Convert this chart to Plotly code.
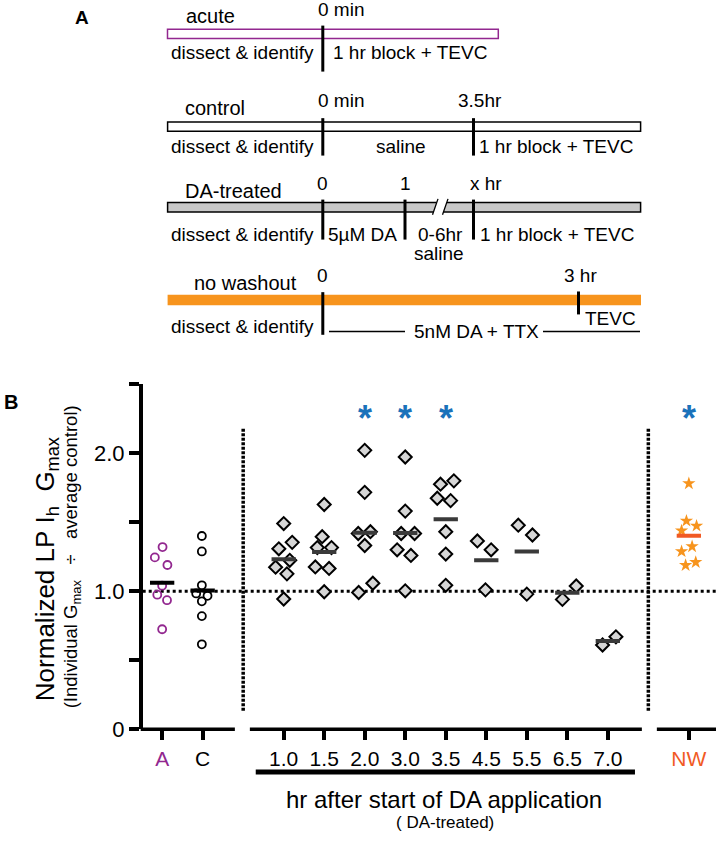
import numpy as np
import plotly.graph_objects as go

W, H = 716, 850
FONT = "Liberation Sans, Arial, Helvetica, sans-serif"

# ---------------- data (panel B) ----------------
categories = ["A", "C", "1.0", "1.5", "2.0", "3.0", "3.5", "4.5", "5.5", "6.5", "7.0", "NW"]
cat_pos = [0, 1, 3, 4, 5, 6, 7, 8, 9, 10, 11, 13]

acute = [1.32, 1.245, 1.19, 1.04, 0.975, 0.935, 0.725]
acute_dx = [0.01, -0.18, 0.13, 0, -0.12, 0.12, 0]
control = [1.40, 1.288, 1.043, 0.984, 0.967, 0.927, 0.82, 0.616]
control_dx = [-0.02, -0.02, -0.02, -0.16, 0.12, -0.02, -0.02, -0.02]

da_1_0 = [1.49, 1.354, 1.307, 1.224, 1.174, 1.126, 0.944]
da_1_0_dx = [0, 0.21, -0.12, 0.15, -0.2, 0.08, 0]
da_1_5 = [1.628, 1.395, 1.316, 1.316, 1.176, 1.165, 0.996]
da_1_5_dx = [0, -0.05, -0.17, 0.18, -0.22, 0.12, 0]
da_2_0 = [2.02, 1.716, 1.418, 1.431, 1.331, 1.058, 0.991]
da_2_0_dx = [0, 0, -0.16, 0.14, 0, 0.2, -0.15]
da_3_0 = [1.972, 1.58, 1.418, 1.418, 1.30, 1.259, 1.003]
da_3_0_dx = [0, 0, -0.1, 0.23, -0.2, 0.14, 0]
da_3_5 = [1.775, 1.799, 1.673, 1.656, 1.431, 1.269, 1.043]
da_3_5_dx = [-0.13, 0.2, -0.21, 0.12, 0, 0, 0]
da_4_5 = [1.364, 1.30, 1.01]
da_4_5_dx = [-0.22, 0.12, -0.02]
da_5_5 = [1.478, 1.407, 0.979]
da_5_5_dx = [-0.21, 0.14, 0]
da_6_5 = [1.038, 0.941]
da_6_5_dx = [0.22, -0.12]
da_7_0 = [0.67, 0.611]
da_7_0_dx = [0.2, -0.13]

no_washout = [1.78, 1.509, 1.473, 1.438, 1.324, 1.288, 1.21, 1.188]
no_washout_dx = [0, -0.06, 0.19, -0.18, 0.08, -0.18, 0.17, -0.08]

significant = ["2.0", "3.0", "3.5", "NW"]
sig_y = 2.335

y_tickvals = [0, 1.0, 2.0]
y_ticktext = ["0", "1.0", "2.0"]
y_minor_ticks = [0.5, 1.5, 2.5]

PURPLE = "#92278f"
ORANGE = "#f7941d"
ORANGE_RED = "#f15a24"
BLUE = "#1a72ba"

# ---------------- axes geometry ----------------
XR = [-0.48, 13.67]
YR = [0, 2.5]
X0_PX = 142.7          # left edge of plot area (pixels)
Y0_PX, Y1_PX = 740.7, 390.0   # pixel rows of y=0 and y=2.5


def px(x):
    return X0_PX + (x - XR[0]) / (XR[1] - XR[0]) * (W - X0_PX)


def py(y):
    return Y0_PX - (y - YR[0]) / (YR[1] - YR[0]) * (Y0_PX - Y1_PX)


pos = dict(zip(categories, cat_pos))

fig = go.Figure()


def add_points(cat, vals, dx, marker):
    xs = [pos[cat] + d for d in dx]
    fig.add_trace(go.Scatter(x=xs, y=vals, mode="markers", marker=marker,
                             hoverinfo="skip", cliponaxis=False))

add_points("A", acute, acute_dx,
           dict(symbol="circle-open", size=8, color=PURPLE, line=dict(width=1.8, color=PURPLE)))
add_points("C", control, control_dx,
           dict(symbol="circle-open", size=8, color="black", line=dict(width=1.8, color="black")))

da_sets = [("1.0", da_1_0, da_1_0_dx), ("1.5", da_1_5, da_1_5_dx), ("2.0", da_2_0, da_2_0_dx),
           ("3.0", da_3_0, da_3_0_dx), ("3.5", da_3_5, da_3_5_dx), ("4.5", da_4_5, da_4_5_dx),
           ("5.5", da_5_5, da_5_5_dx), ("6.5", da_6_5, da_6_5_dx), ("7.0", da_7_0, da_7_0_dx)]
for cat, vals, dx in da_sets:
    add_points(cat, vals, dx,
               dict(symbol="diamond", size=10, color="#d6d6d6", line=dict(width=2, color="black")))

add_points("NW", no_washout, no_washout_dx,
           dict(symbol="star", size=10, color=ORANGE, line=dict(width=0)))

# mean bars
HALF = 0.3


def add_mean(cats_vals, color):
    xs, ys = [], []
    for cat, vals in cats_vals:
        m = float(np.mean(vals))
        xs += [pos[cat] - HALF, pos[cat] + HALF, None]
        ys += [m, m, None]
    fig.add_trace(go.Scatter(x=xs, y=ys, mode="lines", line=dict(color=color, width=4),
                             hoverinfo="skip"))

add_mean([("A", acute), ("C", control)], "black")
add_mean([(c, v) for c, v, _ in da_sets], "#3a3a3a")
add_mean([("NW", no_washout)], ORANGE_RED)

# dummy trace for pixel overlay axes
fig.add_trace(go.Scatter(x=[None], y=[None], xaxis="x2", yaxis="y2", hoverinfo="skip"))

shapes = []
annotations = []

# dotted reference lines (data coords)
shapes.append(dict(type="line", xref="x", yref="y", x0=XR[0], x1=XR[1], y0=1, y1=1,
                   line=dict(color="black", width=3, dash="dot"), layer="below"))
for xv in (2, 12):
    shapes.append(dict(type="line", xref="x", yref="y", x0=xv, x1=xv, y0=0.135, y1=2.185,
                       line=dict(color="black", width=3.5, dash="3px,1.5px"), layer="below"))

# broken x-axis line (pixel overlay, derived from data scale)
for a, b in [(XR[0], 1.795), (2.165, 11.84), (12.21, XR[1])]:
    shapes.append(dict(type="line", xref="x2", yref="y2", x0=px(a) - (2 if a == XR[0] else 0),
                       x1=px(b), y0=py(0), y1=py(0), line=dict(color="black", width=3.5)))
# thick bar under DA-treated labels
shapes.append(dict(type="line", xref="x2", yref="y2", x0=px(2.31), x1=px(11.67), y0=784, y1=784,
                   line=dict(color="black", width=5)))

BOLD = 700
# significance asterisks
for cat in significant:
    annotations.append(dict(x=pos[cat], y=sig_y, xref="x", yref="y", text="*",
                            showarrow=False, yanchor="middle", yshift=-12,
                            font=dict(size=36, color=BLUE, family=FONT, weight=BOLD)))

NB = "\u00a0"
# y-axis titles
annotations.append(dict(x=46, y=578, xref="x2", yref="y2", textangle=-90, showarrow=False,
                        text="Normalized LP" + NB + "I<sub>h</sub>" + NB + NB + "G<sub>max</sub>",
                        font=dict(size=26, color="black", family=FONT)))
annotations.append(dict(x=72, y=566, xref="x2", yref="y2", textangle=-90, showarrow=False,
                        text="(Individual G<sub>max</sub>" + NB * 3 + "\u00f7" + NB * 3 + "average control)",
                        font=dict(size=18.5, color="black", family=FONT)))
# x-axis titles
annotations.append(dict(x=444, y=812, xref="x2", yref="y2", showarrow=False,
                        text="hr after start of DA application",
                        font=dict(size=24, color="black", family=FONT)))
annotations.append(dict(x=445, y=835, xref="x2", yref="y2", showarrow=False,
                        text="( DA-treated)", font=dict(size=17, color="black", family=FONT)))

# panel labels
annotations.append(dict(x=82, y=18, xref="x2", yref="y2", showarrow=False, text="A",
                        font=dict(size=19, color="black", family=FONT, weight=BOLD)))
annotations.append(dict(x=11, y=408, xref="x2", yref="y2", showarrow=False, text="B",
                        font=dict(size=20, color="black", family=FONT, weight=BOLD)))


# ---------------- panel A schematic (pixel overlay) ----------------
def txt(x, y, s, size=19, anchor="center"):
    annotations.append(dict(x=x, y=y, xref="x2", yref="y2", text=s, showarrow=False,
                            xanchor=anchor, yanchor="middle",
                            font=dict(size=size, color="black", family=FONT)))


def seg(x0, y0, x1, y1, w=3, color="black"):
    shapes.append(dict(type="line", xref="x2", yref="y2", x0=x0, y0=y0, x1=x1, y1=y1,
                       line=dict(color=color, width=w)))


def bar(x0, y0, x1, y1, fill, lc, lw):
    shapes.append(dict(type="rect", xref="x2", yref="y2", x0=x0, y0=y0, x1=x1, y1=y1,
                       fillcolor=fill, line=dict(color=lc, width=lw)))

# acute
bar(167.5, 29.7, 498.3, 39, "white", PURPLE, 1.5)
seg(322.8, 26, 322.8, 72.7)
txt(210, 16, "acute", 20)
txt(316, 9.5, "0 min", anchor="left")
txt(242.3, 53.3, "dissect & identify")
txt(410, 53.3, "1 hr block + TEVC")

# control
bar(167.6, 124, 640.6, 133.3, "white", "black", 1.5)
seg(322.8, 120, 322.8, 158)
seg(473.5, 120, 473.5, 158)
txt(214.6, 110, "control", 20)
txt(316, 101.7, "0 min", anchor="left")
txt(479.5, 101.7, "3.5hr")
txt(242, 148.3, "dissect & identify")
txt(401, 148.3, "saline")
txt(556, 148.3, "1 hr block + TEVC")

# DA-treated
bar(167.6, 205.7, 640.6, 215.3, "#c8c8c8", "black", 1.5)
shapes.append(dict(type="path", xref="x2", yref="y2",
                   path="M 432.5 218 L 438 202 L 448 202 L 442.5 218 Z",
                   fillcolor="white", line=dict(width=0)))
seg(432.5, 218, 438, 202, 1.3)
seg(442.5, 218, 448, 202, 1.3)
for xv in (322.8, 405, 473.5):
    seg(xv, 202.7, xv, 243.3)
txt(233.8, 194.3, "DA-treated", 20)
txt(322.8, 186, "0")
txt(405, 186, "1")
txt(485.6, 186, "x hr")
txt(242, 237.7, "dissect & identify")
txt(362.3, 237.7, "5\u00b5M DA")
txt(440, 237.7, "0-6hr")
txt(439.3, 257.3, "saline")
txt(557, 237.7, "1 hr block + TEVC")

# no washout
bar(167.6, 299.3, 641, 310, ORANGE, ORANGE, 0)
seg(322.8, 296.7, 322.8, 340)
seg(578.5, 296, 578.5, 319.3)
txt(245.2, 287.7, "no washout", 20)
txt(322.8, 279.3, "0")
txt(580, 279.3, "3 hr")
txt(610, 323.3, "TEVC")
txt(242, 331.7, "dissect & identify")
txt(476, 337, "5nM DA + TTX")
seg(329, 336.7, 405, 336.7, 1.5)
seg(543, 336.7, 640, 336.7, 1.5)

# ---------------- layout ----------------
x_ticktext = []
for c in categories:
    if c == "A":
        x_ticktext.append('<span style="color:%s">A</span>' % PURPLE)
    elif c == "NW":
        x_ticktext.append('<span style="color:%s">NW</span>' % ORANGE_RED)
    else:
        x_ticktext.append(c)

fig.update_layout(
    width=W, height=H, margin=dict(l=0, r=0, t=0, b=0),
    paper_bgcolor="white", plot_bgcolor="rgba(0,0,0,0)", showlegend=False,
    font=dict(family=FONT, color="black"),
    xaxis=dict(domain=[X0_PX / W, 1], range=XR, tickvals=cat_pos, ticktext=x_ticktext,
               ticks="outside", ticklen=10, tickwidth=3.5, tickcolor="black",
               showline=False, showgrid=False, zeroline=False,
               tickfont=dict(size=21, color="black", family=FONT), anchor="y", fixedrange=True),
    yaxis=dict(domain=[(H - Y0_PX) / H, (H - Y1_PX) / H], range=YR,
               tickvals=y_tickvals, ticktext=y_ticktext,
               ticks="outside", ticklen=10, tickwidth=3.5, tickcolor="black",
               minor=dict(tickvals=y_minor_ticks, ticks="outside", ticklen=10,
                          tickwidth=3.5, tickcolor="black", showgrid=False),
               showline=True, linewidth=3.5, linecolor="black",
               showgrid=False, zeroline=False,
               tickfont=dict(size=22, color="black", family=FONT), anchor="x", fixedrange=True),
    xaxis2=dict(domain=[0, 1], range=[0, W], visible=False, anchor="y2", fixedrange=True),
    yaxis2=dict(domain=[0, 1], range=[H, 0], visible=False, anchor="x2", fixedrange=True),
    shapes=shapes, annotations=annotations,
)

fig.write_html("out.html", config={"displayModeBar": False},
               post_script="document.body.style.margin='0';document.body.style.overflow='hidden';")
